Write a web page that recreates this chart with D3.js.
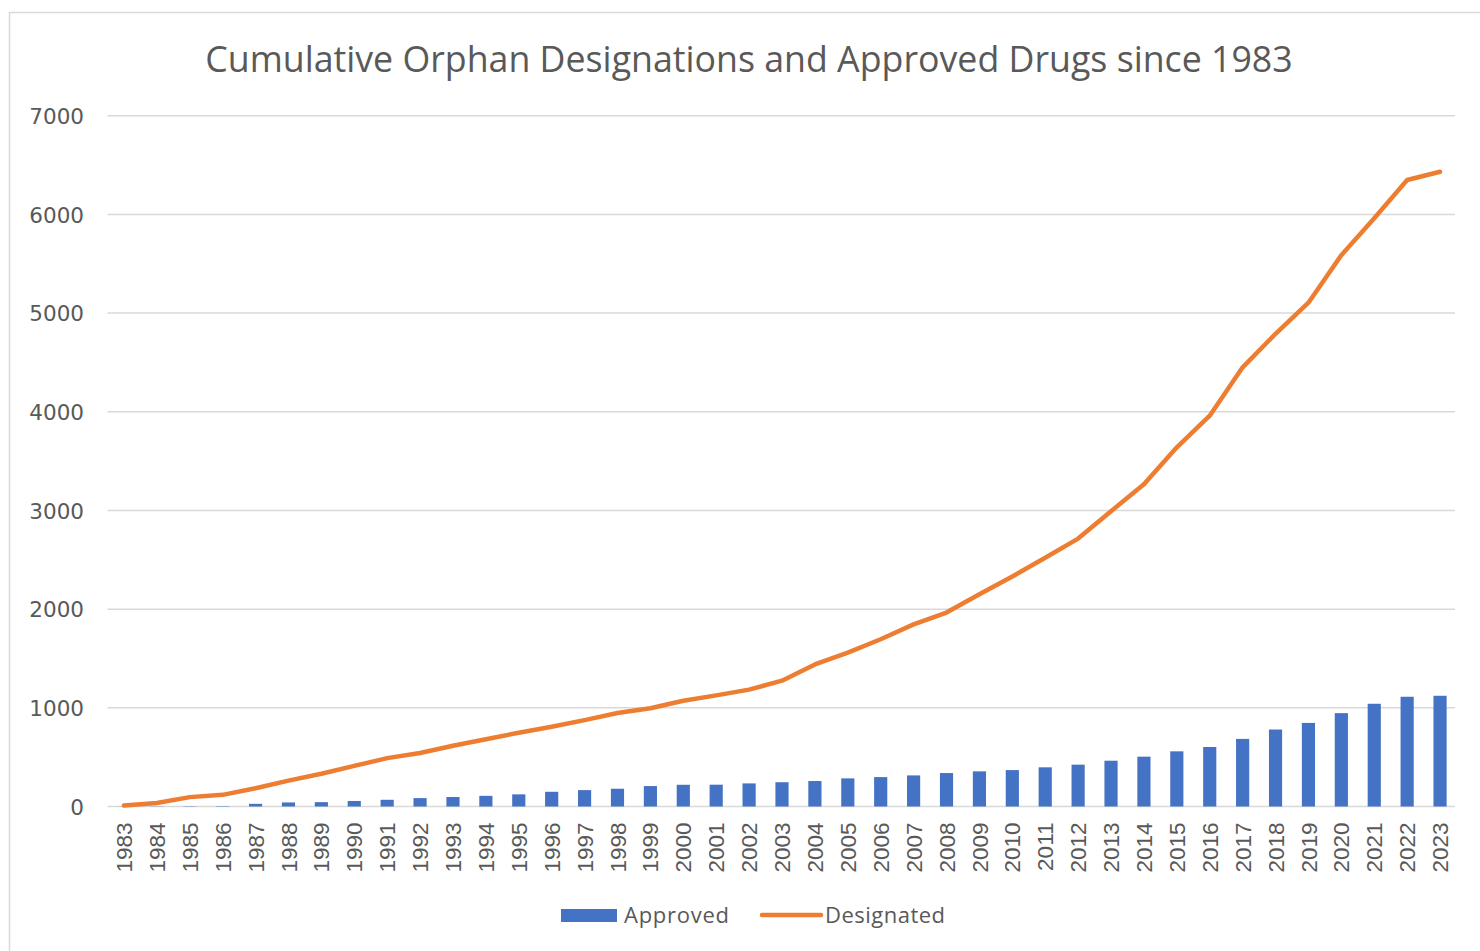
<!DOCTYPE html>
<html>
<head>
<meta charset="utf-8">
<script src="https://cdn.jsdelivr.net/npm/d3@7"></script>
<style>
  html, body { margin: 0; padding: 0; background: #fff; }
  svg { display: block; }
</style>
</head>
<body>
<svg id="chart" width="1480" height="951"></svg>
<script>
const years = [1983,1984,1985,1986,1987,1988,1989,1990,1991,1992,1993,1994,1995,1996,1997,1998,1999,2000,2001,2002,2003,2004,2005,2006,2007,2008,2009,2010,2011,2012,2013,2014,2015,2016,2017,2018,2019,2020,2021,2022,2023];
const approved = [1,2,3,4,27,41,44,56,68,85,96,108,123,149,166,180,207,220,221,234,246,258,285,298,315,339,356,369,397,424,464,505,559,603,685,780,847,946,1041,1112,1122];
const designated = [10,35,95,118,185,262,332,412,490,542,615,682,748,808,875,948,995,1072,1126,1184,1275,1440,1560,1695,1845,1965,2150,2330,2520,2715,2992,3265,3640,3960,4450,4790,5105,5587,5960,6348,6432];
const yTicks = [0,1000,2000,3000,4000,5000,6000,7000];
const title = "Cumulative Orphan Designations and Approved Drugs since 1983";
const seriesNames = ["Approved", "Designated"];

const svg = d3.select("#chart");
const textColor = "#595959";
const gridColor = "#d9d9d9";
const barColor = "#4472C4";
const lineColor = "#ED7D31";

svg.append("rect").attr("x",0).attr("y",0).attr("width",1480).attr("height",951).attr("fill","#fff");
svg.append("rect").attr("x",9.5).attr("y",12.5).attr("width",1480).attr("height",960)
  .attr("fill","none").attr("stroke",gridColor).attr("stroke-width",1.5);

const x = d3.scaleBand().domain(years).range([107.5, 1456.5]).paddingInner(0.6).paddingOuter(0.3);
const y = d3.scaleLinear().domain([0,7000]).range([806.5, 115.7]);

// gridlines
svg.append("g").selectAll("line").data(yTicks).join("line")
  .attr("x1",107.5).attr("x2",1455)
  .attr("y1",d=>y(d)).attr("y2",d=>y(d))
  .attr("stroke",gridColor).attr("stroke-width",1.5);

// y axis labels
const yAxis = d3.axisLeft(y).tickValues(yTicks).tickSize(0).tickPadding(0).tickFormat(d3.format("d"));
const gy = svg.append("g").attr("transform","translate(84,0)").call(yAxis);
gy.select(".domain").remove();
gy.selectAll("text").attr("fill",textColor).attr("font-family","'DejaVu Sans', sans-serif")
  .attr("font-size",21.5).attr("dy","0.36em");

// bars
svg.append("g").selectAll("rect").data(years).join("rect")
  .attr("x",d=>x(d)).attr("width",x.bandwidth())
  .attr("y",(d,i)=>y(approved[i])).attr("height",(d,i)=>y(0)-y(approved[i]))
  .attr("fill",barColor);

// line
const line = d3.line().x((d,i)=>x(years[i])+x.bandwidth()/2).y(d=>y(d));
svg.append("path").datum(designated).attr("d",line)
  .attr("fill","none").attr("stroke",lineColor).attr("stroke-width",4.5)
  .attr("stroke-linejoin","round").attr("stroke-linecap","round");

// x axis labels
const xAxis = d3.axisBottom(x).tickSize(0).tickPadding(0);
const gx = svg.append("g").attr("transform",`translate(0,${y(0)})`).call(xAxis);
gx.select(".domain").remove();
gx.selectAll("text").attr("fill",textColor).attr("font-family","'Liberation Sans', Arial, sans-serif")
  .attr("font-size",22.5).attr("text-anchor","end")
  .attr("transform","translate(0,16) rotate(-90)").attr("x",0).attr("y",0).attr("dy","0.36em");

// title
const t = svg.append("text").attr("x",749).attr("y",72).attr("text-anchor","middle")
  .attr("fill",textColor).attr("font-family","'Open Sans', sans-serif").attr("font-size",32).text(title);
const tw = t.node().getComputedTextLength();
t.attr("font-size", 32*1088/tw);

// legend
const lg = svg.append("g");
lg.append("rect").attr("x",561).attr("y",909).attr("width",56).attr("height",13).attr("fill",barColor);
const l1 = lg.append("text").attr("x",624).attr("y",923).attr("fill",textColor)
  .attr("font-family","'Open Sans', sans-serif").attr("font-size",22).text(seriesNames[0]);
l1.attr("textLength",105).attr("lengthAdjust","spacing");
lg.append("line").attr("x1",762).attr("x2",821).attr("y1",915).attr("y2",915)
  .attr("stroke",lineColor).attr("stroke-width",4.5).attr("stroke-linecap","round");
const l2 = lg.append("text").attr("x",825).attr("y",923).attr("fill",textColor)
  .attr("font-family","'Open Sans', sans-serif").attr("font-size",22).text(seriesNames[1]);
l2.attr("textLength",120).attr("lengthAdjust","spacing");
</script>
</body>
</html>
